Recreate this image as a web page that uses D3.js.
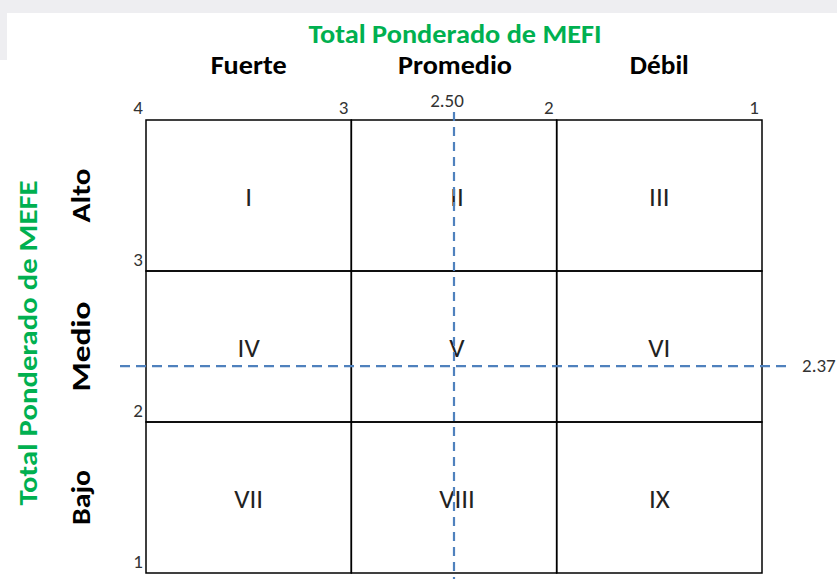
<!DOCTYPE html>
<html><head><meta charset="utf-8">
<script src="https://cdn.jsdelivr.net/npm/d3@7"></script>
<style>
html,body{margin:0;padding:0;background:#fff;}
svg{display:block;}
text{font-family:Carlito,"Liberation Sans Narrow","Liberation Sans",Arial,sans-serif;}
</style></head>
<body>
<svg id="chart" width="837" height="579"></svg>
<script>
// ---- data ----
const xTicks = [4, 3, 2, 1];
const yTicks = [1, 2, 3];
const colLabels = ["Fuerte", "Promedio", "Débil"];
const rowLabels = ["Alto", "Medio", "Bajo"];
const quadrants = ["I", "II", "III", "IV", "V", "VI", "VII", "VIII", "IX"];
const mefiTotal = 2.50;
const mefeTotal = 2.37;
const xTitle = "Total Ponderado de MEFI";
const yTitle = "Total Ponderado de MEFE";

const svg = d3.select("#chart");
const W = 837, H = 579;

// background strip (page frame)
svg.append("rect").attr("x",0).attr("y",0).attr("width",W).attr("height",H).attr("fill","#eeeef1");
svg.append("rect").attr("x",7).attr("y",13).attr("width",W-7).attr("height",H-13).attr("fill","#ffffff");
svg.append("rect").attr("x",0).attr("y",60).attr("width",8).attr("height",H-60).attr("fill","#ffffff");

const x = d3.scaleLinear().domain([4, 1]).range([146, 762]);
const y = d3.scaleLinear().domain([4, 1]).range([120, 573]);

const green = "#00b050", blue = "#4f81bd";

// titles
svg.append("text").attr("x", 455).attr("y", 43).attr("text-anchor","middle")
  .attr("font-size",26).attr("font-weight","bold").attr("fill",green)
  .attr("textLength",293).attr("lengthAdjust","spacingAndGlyphs").text(xTitle);

svg.append("text").attr("transform","translate(37,343) rotate(-90)").attr("text-anchor","middle")
  .attr("font-size",26).attr("font-weight","bold").attr("fill",green)
  .attr("textLength",325).attr("lengthAdjust","spacingAndGlyphs").text(yTitle);

// column headers
const colW = [76, 114, 59];
svg.selectAll("text.col").data(colLabels).join("text").attr("class","col")
  .attr("x",(d,i)=> (x(4-i)+x(3-i))/2 + (i===1?1:0))
  .attr("y",74).attr("text-anchor","middle")
  .attr("font-size",26).attr("font-weight","bold").attr("fill","#000")
  .attr("textLength",(d,i)=>colW[i]).attr("lengthAdjust","spacingAndGlyphs")
  .text(d=>d);

// row labels
const rowW = [54, 90, 55];
svg.selectAll("text.row").data(rowLabels).join("text").attr("class","row")
  .attr("transform",(d,i)=>`translate(90,${(y(4-i)+y(3-i))/2}) rotate(-90)`)
  .attr("text-anchor","middle")
  .attr("font-size",26).attr("font-weight","bold").attr("fill","#000")
  .attr("textLength",(d,i)=>rowW[i]).attr("lengthAdjust","spacingAndGlyphs")
  .text(d=>d);

// tick labels
svg.selectAll("text.xt").data(xTicks).join("text").attr("class","xt")
  .attr("x",d=>x(d)-3).attr("y",114).attr("text-anchor","end")
  .attr("font-size",19).attr("fill","#333").text(d=>d);
svg.selectAll("text.yt").data(yTicks).join("text").attr("class","yt")
  .attr("x",x(4)-3).attr("y",d=>y(d)-5).attr("text-anchor","end")
  .attr("font-size",19).attr("fill","#333").text(d=>d);

// grid cells
const g = svg.append("g");
const cells = [];
for (let r=0;r<3;r++) for (let c=0;c<3;c++) cells.push({r,c,label:quadrants[r*3+c]});
g.selectAll("rect.cell").data(cells).join("rect").attr("class","cell")
  .attr("x",d=>x(4-d.c)).attr("y",d=>y(4-d.r))
  .attr("width",d=>x(3-d.c)-x(4-d.c)).attr("height",d=>y(3-d.r)-y(4-d.r))
  .attr("fill","none").attr("stroke","#000").attr("stroke-width",1.5);

// dashed reference lines
svg.append("line").attr("x1",x(mefiTotal)).attr("x2",x(mefiTotal))
  .attr("y1",112).attr("y2",H)
  .attr("stroke",blue).attr("stroke-width",2.2).attr("stroke-dasharray","9,6");
svg.append("line").attr("x1",120).attr("x2",792)
  .attr("y1",y(mefeTotal)).attr("y2",y(mefeTotal))
  .attr("stroke",blue).attr("stroke-width",2.2).attr("stroke-dasharray","10,6");

svg.append("text").attr("x",x(mefiTotal)-7).attr("y",107).attr("text-anchor","middle")
  .attr("font-size",19).attr("fill","#333").text(mefiTotal.toFixed(2));
svg.append("text").attr("x",802).attr("y",y(mefeTotal)+6).attr("text-anchor","start")
  .attr("font-size",19).attr("fill","#333").text(mefeTotal.toFixed(2));

// quadrant numerals
g.selectAll("text.q").data(cells).join("text").attr("class","q")
  .attr("x",d=>(x(4-d.c)+x(3-d.c))/2 + (d.c===1?3:0))
  .attr("y",d=>(y(4-d.r)+y(3-d.r))/2 + 10)
  .attr("text-anchor","middle").attr("font-size",27).attr("fill","#222")
  .text(d=>d.label);
</script>
</body></html>
